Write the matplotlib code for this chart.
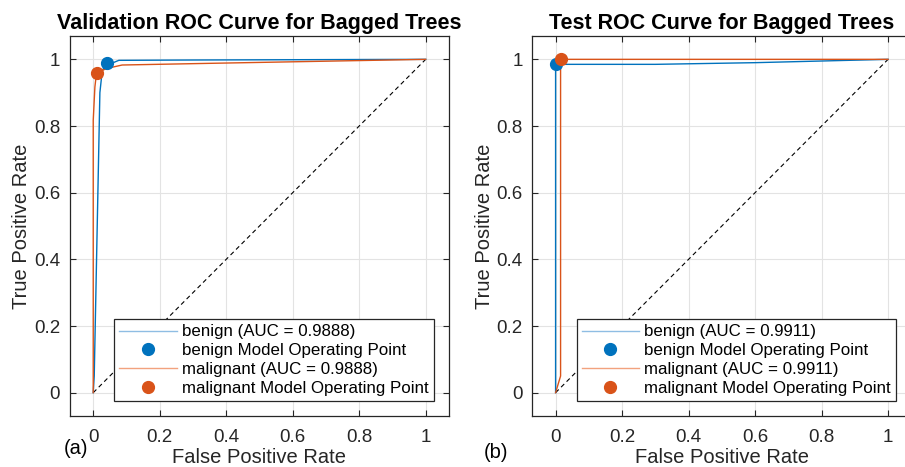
import matplotlib
matplotlib.use("Agg")
import matplotlib.pyplot as plt
import numpy as np

plt.rcParams['font.family'] = ['Liberation Sans', 'DejaVu Sans']

# ROC curve data
val_benign_fpr = [0.0, 0.003, 0.02, 0.027, 0.04, 0.06, 0.077, 0.3, 1.0]
val_benign_tpr = [0.0, 0.05, 0.90, 0.965, 0.99, 0.99, 0.997, 0.998, 1.0]
val_malig_fpr = [0.0, 0.0, 0.005, 0.01, 0.042, 0.087, 0.35, 1.0]
val_malig_tpr = [0.0, 0.817, 0.917, 0.96, 0.973, 0.983, 0.988, 1.0]
val_benign_op = (0.04, 0.99)
val_malig_op = (0.01, 0.96)
val_auc = [0.9888, 0.9888]

test_benign_fpr = [0.0, 0.0, 0.3, 0.6, 1.0]
test_benign_tpr = [0.0, 0.985, 0.985, 0.99, 1.0]
test_malig_fpr = [0.0, 0.015, 0.015, 1.0]
test_malig_tpr = [0.0, 0.05, 1.0, 1.0]
test_benign_op = (0.0, 0.985)
test_malig_op = (0.015, 1.0)
test_auc = [0.9911, 0.9911]

titles = ['Validation ROC Curve for Bagged Trees', 'Test ROC Curve for Bagged Trees']
panel_tags = ['(a)', '(b)']
ticks = [0, 0.2, 0.4, 0.6, 0.8, 1]
tick_labels = ['0', '0.2', '0.4', '0.6', '0.8', '1']

blue = '#0072BD'
orange = '#D95319'
light = {blue: '#8fbde3', orange: '#f2a27e'}

fig = plt.figure(figsize=(9.05, 4.67), dpi=100)
ax1 = fig.add_axes([0.0773, 0.1092, 0.4188, 0.8137])
ax2 = fig.add_axes([0.5882, 0.1092, 0.4188, 0.8137])

panels = [
    (ax1, val_benign_fpr, val_benign_tpr, val_malig_fpr, val_malig_tpr, val_benign_op, val_malig_op, val_auc),
    (ax2, test_benign_fpr, test_benign_tpr, test_malig_fpr, test_malig_tpr, test_benign_op, test_malig_op, test_auc),
]

for i, (ax, bf, bt, mf, mt, bop, mop, auc) in enumerate(panels):
    ax.plot([0, 1], [0, 1], ls=(0, (4, 3)), color='black', lw=0.8, zorder=2)
    ax.plot(bf, bt, color=blue, lw=1.0, label='benign (AUC = %.4f)' % auc[0], zorder=3)
    ax.plot(*bop, 'o', color=blue, ms=8.5, label='benign Model Operating Point', zorder=5)
    ax.plot(mf, mt, color=orange, lw=1.0, label='malignant (AUC = %.4f)' % auc[1], zorder=3)
    ax.plot(*mop, 'o', color=orange, ms=8.5, label='malignant Model Operating Point', zorder=5)

    ax.set_xlim(-0.07, 1.07)
    ax.set_ylim(-0.07, 1.07)
    ax.set_xticks(ticks)
    ax.set_xticklabels(tick_labels)
    ax.set_yticks(ticks)
    ax.set_yticklabels(tick_labels)
    ax.grid(True, color='#e3e3e3', lw=0.8, zorder=0)
    ax.set_axisbelow(True)
    ax.tick_params(direction='in', length=4, width=0.8, colors='#262626',
                   top=True, right=True, labelsize=13.5, pad=7)
    ax.tick_params(axis='x', pad=9)
    for s in ax.spines.values():
        s.set_color('#262626')
        s.set_linewidth(0.9)

    ax.set_xlabel('False Positive Rate', fontsize=14.5, color='#262626', labelpad=2)
    ax.set_ylabel('True Positive Rate', fontsize=14.5, color='#262626', labelpad=2)
    ax.set_title(titles[i], fontsize=15.5, fontweight='bold', pad=5)

    leg = ax.legend(loc='lower right', fontsize=12.2, frameon=True, fancybox=False,
                    framealpha=1, edgecolor='#262626', handlelength=3.4,
                    handletextpad=0.3, labelspacing=0.22, borderpad=0.3,
                    borderaxespad=0.9)
    leg.get_frame().set_linewidth(0.9)
    for ln, src in zip(leg.get_lines(), ax.get_lines()[1:]):
        if src.get_linestyle() == '-':
            ln.set_color(light[src.get_color()])
            ln.set_linewidth(1.0)

fig.text(76 / 905, 1 - 449 / 467, panel_tags[0], fontsize=14.5, ha='center', va='center')
fig.text(496 / 905, 1 - 452 / 467, panel_tags[1], fontsize=14.5, ha='center', va='center')

fig.savefig('out.png', dpi=100)
